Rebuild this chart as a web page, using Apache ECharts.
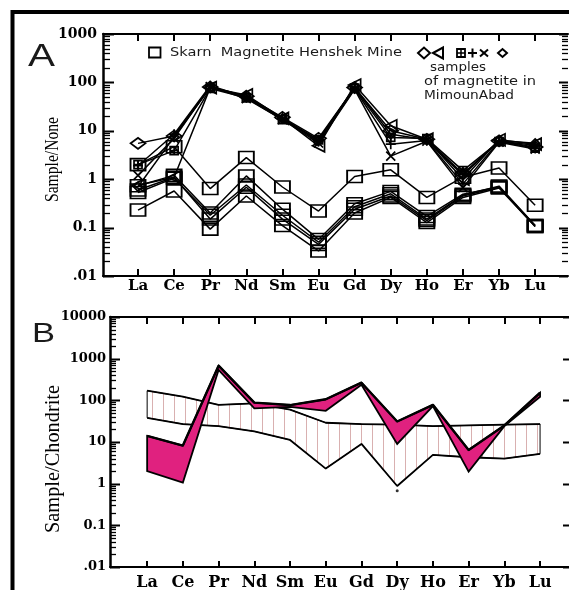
<!DOCTYPE html>
<html><head><meta charset="utf-8">
<script src="https://cdn.jsdelivr.net/npm/echarts@6/dist/echarts.min.js"></script>
<style>html,body{margin:0;padding:0;background:#fff}#c{width:569px;height:590px}</style>
</head><body><div id="c"></div>
<script>
// ---------- data ----------
const categories = ['La','Ce','Pr','Nd','Sm','Eu','Gd','Dy','Ho','Er','Yb','Lu'];
const yTickLabelsA = ['.01','0.1','1','10','100','1000'];
const yTickLabelsB = ['.01','0.1','1','10','100','1000','10000'];

// Panel A: skarn magnetite, Henshek mine (squares)
const henshek1 = [2.0, 4.7, 0.64, 2.8, 0.69, 0.22, 1.14, 1.56, 0.42, 1.1, 1.7, 0.29];
const henshek2 = [0.73, 1.2, 0.2, 1.17, 0.24, 0.057, 0.31, 0.56, 0.17, 0.49, 0.69, 0.11];
const henshek3 = [0.53, 1.05, 0.18, 0.76, 0.18, 0.05, 0.27, 0.5, 0.15, 0.47, 0.72, 0.11];
const henshek4 = [0.6, 1.1, 0.15, 0.68, 0.15, 0.045, 0.24, 0.45, 0.14, 0.45, 0.68, 0.105];
const henshek5 = [0.23, 0.57, 0.093, 0.45, 0.11, 0.033, 0.2, 0.42, 0.127, 0.42, 0.66, 0.105];

// Panel A: magnetite samples, MimounAbad
const mimounDiamond  = [5.5, 7.8, 80, 52, 19, 7.0, 78, 10, 6.7, 1.3, 6.2, 4.6];
const mimounTriangle = [0.75, 1.1, 78, 55, 18, 4.9, 88, 12.7, 6.7, 1.0, 6.5, 5.3];
const mimounBoxPlus  = [2.0, 3.9, 75, 48, 17, 6.5, 76, 7.3, 6.9, 1.5, 6.0, 4.4];
const mimounPlus     = [1.9, 8.5, 85, 50, 18, 6.0, 74, 5.3, 6.3, 0.8, 6.1, 5.0];
const mimounCross    = [1.2, 7.0, 82, 46, 17, 5.6, 72, 3.0, 6.1, 0.67, 5.8, 4.2];
const mimounSmallDia = [0.7, 7.5, 78, 50, 18, 6.5, 80, 8.5, 6.5, 1.2, 6.3, 5.5];

// Panel B: chondrite-normalised fields
const hatchUpper = [170, 122, 78, 85, 60, 29, 27, 26, 24, 25, 26, 27];
const hatchLower = [38, 27, 24, 18, 11.2, 2.3, 9, 0.88, 4.9, 4.3, 4.0, 5.2];
const pinkTop    = [14, 8.2, 680, 88, 77, 106, 265, 31, 78, 6.4, 25, 152];
const pinkBottom = [2.0, 1.06, 535, 64, 70, 56, 235, 9, 73, 1.94, 24, 122];
const dyDot = [[7, 0.68]];

// ---------- helpers ----------
const idx = categories.map((c, i) => i);
const toXY = arr => arr.map((v, i) => [i, v]);
const X_A = [-0.97, 11.91], X_B = [-1.04, 11.81];
// log-axis tick positions (decades and 2..9 subdivisions)
function logTicks(lo, hi, x0) {
  const out = [];
  for (let d = lo; d <= hi; d++) {
    out.push([x0, Math.pow(10, d)]);
    if (d < hi) for (let k = 2; k <= 9; k++) out.push([x0, k * Math.pow(10, d)]);
  }
  return out;
}
const mctx = document.createElement('canvas').getContext('2d');
function fitScale(text, font, target) { mctx.font = font; return target / mctx.measureText(text).width; }

const hatch = document.createElement('canvas');
hatch.width = 11; hatch.height = 4;
(function () { const g = hatch.getContext('2d'); g.fillStyle = '#d9b0b0'; g.fillRect(9, 0, 1, 4); })();

const serifLbl = '"DejaVu Serif", serif';
const black = '#000';

function catAxis(grid, pos, ext, show, len, fs, margin) {
  return {
    gridIndex: grid, type: 'value', position: pos, min: ext[0], max: ext[1],
    axisLine: { show: true, onZero: false, lineStyle: { color: black, width: 2 } },
    axisTick: { show: true, inside: true, length: len, lineStyle: { color: black, width: 2 }, customValues: idx },
    axisLabel: { show: show, customValues: idx, formatter: v => categories[Math.round(v)], color: black,
      fontFamily: serifLbl, fontWeight: 'bold', fontSize: fs, margin: margin },
    splitLine: { show: false }
  };
}
function labelAxis(grid, pos, lo, hi, labels, fs, margin, lineStyle) {
  return {
    gridIndex: grid, type: 'value', position: pos, min: lo, max: hi, interval: 1,
    axisLine: { show: true, onZero: false, lineStyle: lineStyle },
    axisTick: { show: false },
    axisLabel: { show: !!labels, formatter: v => labels ? labels[Math.round(v) - lo] : '', color: black,
      fontFamily: serifLbl, fontWeight: 'bold', fontSize: fs, margin: margin },
    splitLine: { show: false }
  };
}

// draws the y tick marks at both grid edges, positioned by api.coord
function tickRender(ext, lMaj, lMin, rMaj, rMin) {
  return function (params, api) {
    const v = api.value(1);
    const lg = Math.log10(v);
    const major = Math.abs(lg - Math.round(lg)) < 1e-6;
    const p = api.coord([ext[0], v]), q = api.coord([ext[1], v]);
    const y = Math.round(p[1]) + 0.5;
    const w = major ? 2 : 1.3;
    const a = major ? lMaj : lMin, b = major ? rMaj : rMin;
    const children = [];
    if (a) children.push({ type: 'line', shape: { x1: p[0], y1: y, x2: p[0] + a, y2: y }, style: { stroke: black, lineWidth: w } });
    if (b) children.push({ type: 'line', shape: { x1: q[0], y1: y, x2: q[0] - b, y2: y }, style: { stroke: black, lineWidth: w } });
    return { type: 'group', children: children };
  };
}

function lineSeries(name, data, symbol, size, extra) {
  return Object.assign({
    name: name, type: 'line', xAxisIndex: 0, yAxisIndex: 0, data: toXY(data),
    symbol: symbol, symbolSize: size, showSymbol: true,
    lineStyle: { color: black, width: 1.5 },
    itemStyle: { color: 'rgba(255,255,255,0)', borderColor: black, borderWidth: 1.7 },
    z: 3, silent: true
  }, extra || {});
}

function bandRender(upper, lower, style) {
  return function (params, api) {
    const pts = [];
    upper.forEach((v, i) => pts.push(api.coord([i, v])));
    for (let i = lower.length - 1; i >= 0; i--) pts.push(api.coord([i, lower[i]]));
    return { type: 'polygon', shape: { points: pts }, style: style };
  };
}

const sansF = '"DejaVu Sans", sans-serif';
function txt(text, x, y, size, target, family, align, extra, fill) {
  const font = size + 'px ' + family;
  return Object.assign({
    type: 'text', x: x, y: y, scaleX: target ? fitScale(text, font, target) : 1, silent: true,
    style: { text: text, font: font, fill: fill || '#1a1a1a', align: align || 'left', verticalAlign: 'middle' }
  }, extra || {});
}
function seg(x1, y1, x2, y2, w) {
  return { type: 'line', shape: { x1: x1, y1: y1, x2: x2, y2: y2 }, style: { stroke: black, lineWidth: w || 2 }, silent: true };
}

const squareSeries = [henshek1, henshek2, henshek3, henshek4, henshek5].map((d, i) =>
  lineSeries('Skarn Magnetite Henshek Mine ' + (i + 1), d, 'rect', [15, 12]));

const mimounSeries = [
  lineSeries('MimounAbad diamond', mimounDiamond, 'diamond', [15, 11]),
  lineSeries('MimounAbad triangle', mimounTriangle, 'triangle', [12, 12], { symbolRotate: 90 }),
  lineSeries('MimounAbad boxed plus', mimounBoxPlus, 'path://M0,0 L10,0 L10,10 L0,10 Z M5,0 L5,10 M0,5 L10,5', [8, 8]),
  lineSeries('MimounAbad plus', mimounPlus, 'path://M5,0 L5,10 M0,5 L10,5', [10, 10]),
  lineSeries('MimounAbad x', mimounCross, 'path://M0,0 L10,10 M0,10 L10,0', [9, 9]),
  lineSeries('MimounAbad small diamond', mimounSmallDia, 'diamond', [9, 9])
];

const option = {
  animation: false,
  backgroundColor: '#fff',
  grid: [
    { left: 103, top: 34, width: 465, height: 242, outerBoundsMode: 'none' },
    { left: 110, top: 317, width: 459, height: 250, outerBoundsMode: 'none' }
  ],
  xAxis: [
    catAxis(0, 'bottom', X_A, true, 7, 15, 3),
    catAxis(0, 'top', X_A, false, 7, 15, 3),
    catAxis(1, 'bottom', X_B, true, 6, 16, 8),
    catAxis(1, 'top', X_B, false, 7, 16, 3)
  ],
  yAxis: [
    { gridIndex: 0, type: 'log', logBase: 10, min: 0.01, max: 1000, show: false, axisLine: { onZero: false } },
    labelAxis(0, 'left', -2, 3, yTickLabelsA, 14, 6, { color: black, width: 2.5 }),
    { gridIndex: 1, type: 'log', logBase: 10, min: 0.01, max: 10000, show: false, axisLine: { onZero: false } },
    labelAxis(1, 'left', -2, 4, yTickLabelsB, 13, 4, { color: black, width: 2.5 }),
    labelAxis(1, 'right', -2, 4, null, 13, 4, { color: '#aaa', width: 1, type: 'dotted' })
  ],
  series: [
    { name: 'y ticks A', type: 'custom', xAxisIndex: 0, yAxisIndex: 0, data: logTicks(-2, 3, X_A[0]), silent: true, z: 6,
      clip: false, renderItem: tickRender(X_A, 11, 7, 9, 6) },
    { name: 'y ticks B', type: 'custom', xAxisIndex: 2, yAxisIndex: 2, data: logTicks(-2, 4, X_B[0]), silent: true, z: 6,
      clip: false, renderItem: tickRender(X_B, 10, 6, 6, 0) },
    ...squareSeries,
    ...mimounSeries,
    { name: 'hatched field', type: 'custom', xAxisIndex: 2, yAxisIndex: 2, data: [[0, 1]], silent: true, z: 1,
      renderItem: bandRender(hatchUpper, hatchLower, { fill: { type: 'pattern', image: hatch, repeat: 'repeat' }, stroke: black, lineWidth: 1 }) },
    { name: 'hatched upper', type: 'line', xAxisIndex: 2, yAxisIndex: 2, data: toXY(hatchUpper), showSymbol: false, symbol: 'none',
      lineStyle: { color: black, width: 1.8 }, z: 2, silent: true },
    { name: 'hatched lower', type: 'line', xAxisIndex: 2, yAxisIndex: 2, data: toXY(hatchLower), showSymbol: false, symbol: 'none',
      lineStyle: { color: black, width: 1.8 }, z: 2, silent: true },
    { name: 'pink field', type: 'custom', xAxisIndex: 2, yAxisIndex: 2, data: [[0, 1]], silent: true, z: 3,
      renderItem: bandRender(pinkTop, pinkBottom, { fill: '#e0217f', stroke: black, lineWidth: 1.8, lineJoin: 'miter' }) },
    { name: 'pink top', type: 'line', xAxisIndex: 2, yAxisIndex: 2, data: toXY(pinkTop), showSymbol: false, symbol: 'none',
      lineStyle: { color: black, width: 2.4 }, z: 4, silent: true },
    { name: 'Dy point', type: 'scatter', xAxisIndex: 2, yAxisIndex: 2, data: dyDot, symbol: 'circle', symbolSize: 3,
      itemStyle: { color: black }, z: 4, silent: true }
  ],
  graphic: [
    { type: 'rect', shape: { x: 12.5, y: 12, width: 620, height: 620 }, style: { fill: 'none', stroke: black, lineWidth: 4 }, silent: true },
    txt('A', 28, 57, 32, 27, '"Liberation Sans", sans-serif', 'left'),
    txt('B', 32, 334, 28, 23, '"Liberation Sans", sans-serif', 'left'),
    txt('Sample/None', 53.5, 159.5, 18, 85, '"Liberation Serif", serif', 'center', { rotation: Math.PI / 2 }, '#000'),
    txt('Sample/Chondrite', 54, 459, 20, 148, '"Liberation Serif", serif', 'center', { rotation: Math.PI / 2 }, '#000'),
    // legend
    { type: 'rect', shape: { x: 149, y: 47.5, width: 11.5, height: 10 }, style: { fill: 'none', stroke: black, lineWidth: 1.8 }, silent: true },
    txt('Skarn  Magnetite Henshek Mine', 170, 53, 11.5, 232, sansF, 'left'),
    { type: 'polygon', shape: { points: [[418, 53], [424, 47.5], [430, 53], [424, 58.5]] }, style: { fill: 'none', stroke: black, lineWidth: 2 }, silent: true },
    { type: 'polygon', shape: { points: [[433, 53], [443, 47.5], [443, 58.5]] }, style: { fill: 'none', stroke: black, lineWidth: 2 }, silent: true },
    { type: 'rect', shape: { x: 457, y: 49, width: 8, height: 8 }, style: { fill: 'none', stroke: black, lineWidth: 1.8 }, silent: true },
    seg(461, 49, 461, 57, 1.5), seg(457, 53, 465, 53, 1.5),
    seg(468, 53, 477, 53), seg(472.5, 48.5, 472.5, 57.5),
    seg(480, 49.5, 488, 56.5), seg(480, 56.5, 488, 49.5),
    { type: 'polygon', shape: { points: [[498, 53], [502.5, 49], [507, 53], [502.5, 57]] }, style: { fill: 'none', stroke: black, lineWidth: 2 }, silent: true },
    txt('samples', 430, 68, 11.5, 56, sansF, 'left'),
    txt('of magnetite in', 424, 82.5, 11.5, 112, sansF, 'left'),
    txt('MimounAbad', 424, 96, 11.5, 90, sansF, 'left')
  ]
};

const chart = echarts.init(document.getElementById('c'), null, { renderer: 'canvas' });
chart.setOption(option);
</script>
</body></html>
